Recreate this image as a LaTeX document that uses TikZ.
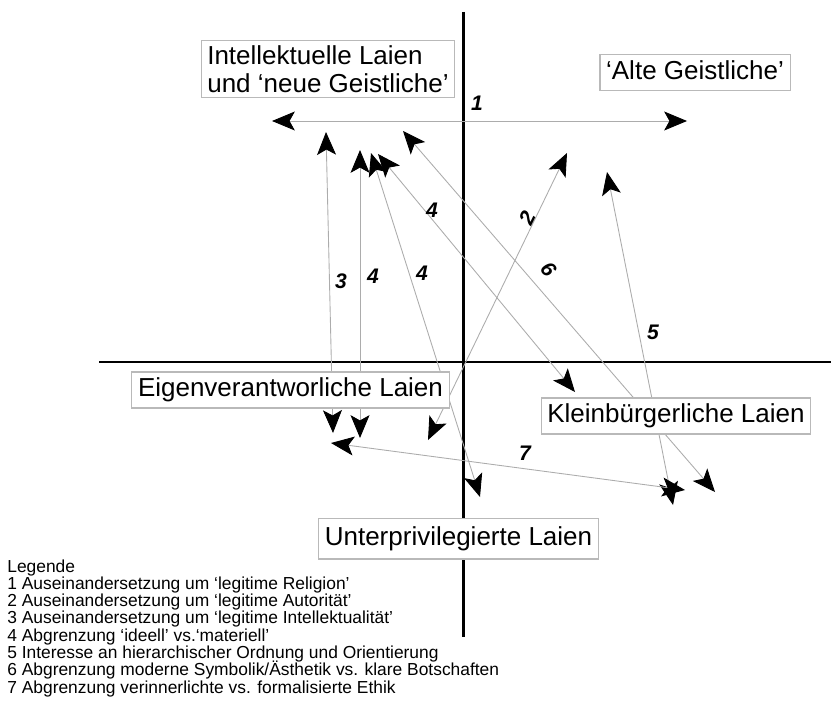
\documentclass[tikz,border=0pt]{standalone}
\usepackage{fontspec}
\setmainfont{Liberation Sans}
\usepackage{tikz}
\usetikzlibrary{arrows.meta}
\tikzset{
	kopf/.tip={Stealth[length=13pt, width=10.8pt, inset=3pt, color=black]},
	achse/.style={line width=1.7pt, black},
	pfeil/.style={kopf-kopf, draw=gray!65, line width=0.5pt},
	feld/.style={draw=gray!55, fill=white, line width=0.6pt, align=left,
		font=\fontsize{14.8}{15.9}\selectfont, inner xsep=3.5pt, inner ysep=3.3pt},
	einzeilig/.style={text height=10.8pt, text depth=3.1pt},
	nummer/.style={font=\fontsize{12}{12}\selectfont\bfseries\itshape, inner sep=0pt},
	legende/.style={font=\fontsize{9.9}{9.8}\selectfont, inner sep=0pt, anchor=base west}
}

\begin{document}
\begin{tikzpicture}[x=0.02cm, y=-0.02cm]
	\useasboundingbox (0,0) rectangle (831,706);

	% Achsen
	\coordinate (oben) at (463,12);
	\coordinate (unten) at (463,637);
	\coordinate (links) at (99,362);
	\coordinate (rechts) at (831,362);
	\draw[achse] (oben) -- (unten);
	\draw[achse] (links) -- (rechts);

	% Pfeilenden
	\coordinate (p1l) at (272,121);   \coordinate (p1r) at (687,121);
	\coordinate (p2u) at (428,440);   \coordinate (p2o) at (567,153);
	\coordinate (p3u) at (333,433);   \coordinate (p3o) at (326,132);
	\coordinate (p4u) at (360,438);   \coordinate (p4o) at (360,150);
	\coordinate (p4bu) at (480,497);  \coordinate (p4bo) at (371,153);
	\coordinate (p4cu) at (575,392);  \coordinate (p4co) at (378,154);
	\coordinate (p5u) at (673,505);   \coordinate (p5o) at (607,172);
	\coordinate (p6u) at (715,492);   \coordinate (p6o) at (403,131);
	\coordinate (p7l) at (331,443);   \coordinate (p7r) at (685,490);
	\foreach \a/\b in {p1l/p1r, p2u/p2o, p3u/p3o, p4u/p4o, p4bu/p4bo, p4cu/p4co, p5u/p5o, p6u/p6o, p7l/p7r}
		\draw[pfeil] (\a) -- (\b);

	% Nummern
	\node[nummer] (z1) at (477,103) {1};
	\node[nummer, rotate=64] (z2) at (527,218) {2};
	\node[nummer] (z3) at (341,281) {3};
	\node[nummer] (z4a) at (373,276) {4};
	\node[nummer] (z4b) at (422,273) {4};
	\node[nummer] (z4c) at (432,210) {4};
	\node[nummer] (z5) at (653,332) {5};
	\node[nummer, rotate=-50] (z6) at (549,269) {6};
	\node[nummer] (z7) at (525,453) {7};

	% Felder
	\node[feld, inner ysep=2.7pt] (intel) at (328,69) {Intellektuelle Laien\\und ‘neue Geistliche’};
	\node[feld, einzeilig] (alt) at (695,72.5) {‘Alte Geistliche’};
	\node[feld, einzeilig] (eigen) at (290.5,390) {Eigenverantworliche Laien};
	\node[feld, einzeilig] (klein) at (676,416) {Kleinbürgerliche Laien};
	\node[feld, einzeilig, inner ysep=4.7pt] (unter) at (458.5,538.5) {Unterprivilegierte Laien};

	% Legende
	\foreach \t [count=\i from 0] in {{Legende},
		{1 Auseinandersetzung um ‘legitime Religion’},
		{2 Auseinandersetzung um ‘legitime Autorität’},
		{3 Auseinandersetzung um ‘legitime Intellektualität’},
		{4 Abgrenzung ‘ideell’ vs.‘materiell’},
		{5 Interesse an hierarchischer Ordnung und Orientierung},
		{6 Abgrenzung moderne Symbolik/Ästhetik vs. klare Botschaften},
		{7 Abgrenzung verinnerlichte vs. formalisierte Ethik}}
		\node[legende] (leg\i) at (7,572+17.3*\i) {\t};

\end{tikzpicture}
\end{document}
